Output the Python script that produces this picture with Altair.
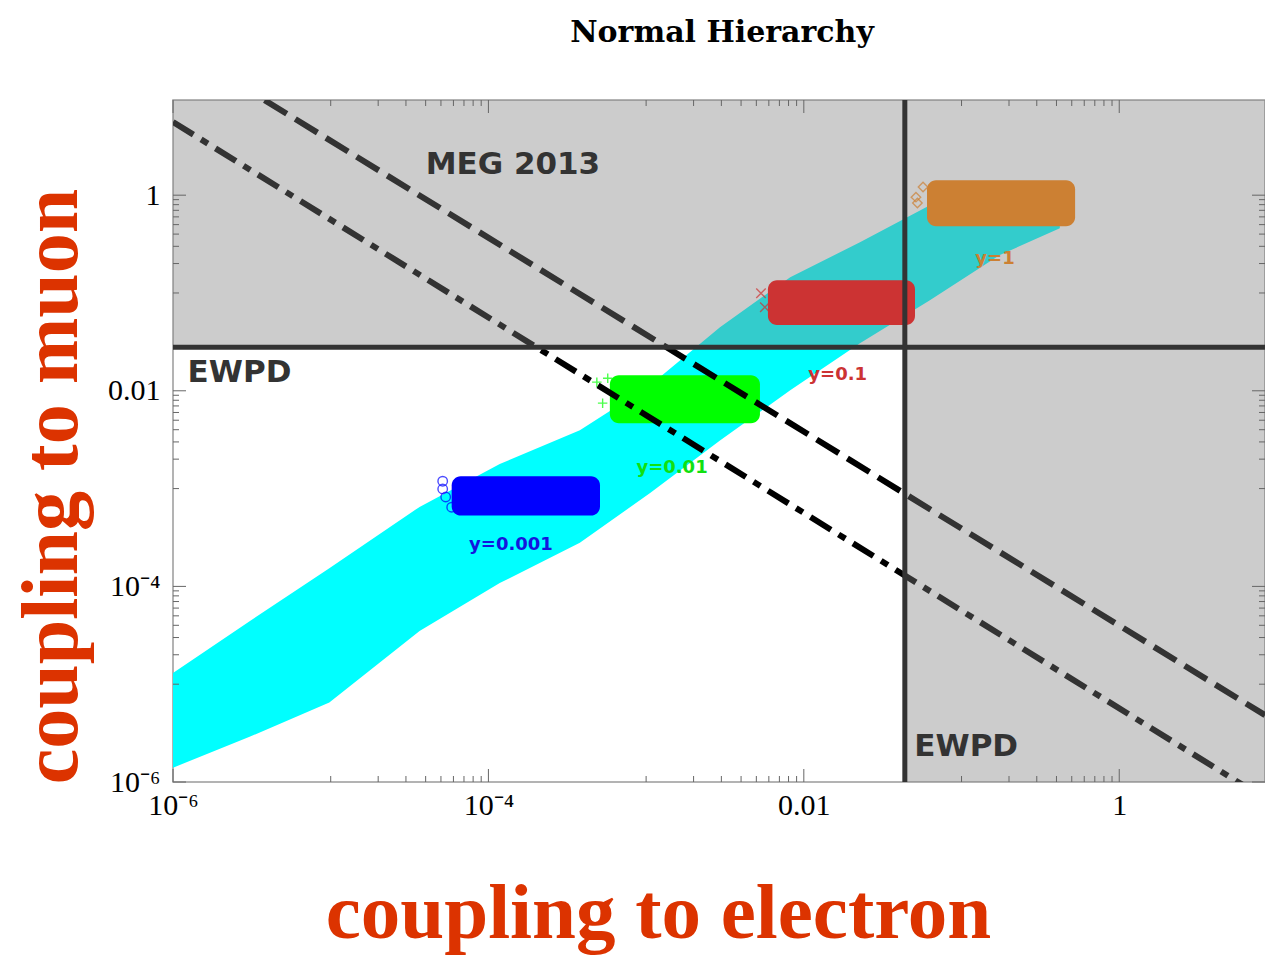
import math
import altair as alt
import pandas as pd

# ---------------- data ----------------
X_DOMAIN = [1e-6, 8.4]
Y_DOMAIN = [1e-6, 9.4]

X_TICKS = [1e-6, 1e-4, 1e-2, 1]
X_TICK_LABELS = ["10⁻⁶", "10⁻⁴", "0.01", "1"]
Y_TICKS = [1e-6, 1e-4, 1e-2, 1]
Y_TICK_LABELS = ["10⁻⁶", "10⁻⁴", "0.01", "1"]
MINOR_MANTISSAS = [1, 2, 3, 4, 5, 6, 7, 8, 9]
MINOR_DECADES = [1e-5, 1e-3, 1e-1]

TITLE = "Normal Hierarchy"

# cyan scan: envelope of the scattered points
band_x = [1e-6, 3.06e-6, 9.8e-6, 3.66e-5, 1.18e-4, 3.8e-4, 1.06e-3, 2.94e-3, 8.2e-3, 0.0227, 0.063, 0.175, 0.42]
band_lo = [1.4e-6, 2.9e-6, 6.5e-6, 3.5e-5, 1.08e-4, 2.8e-4, 9.0e-4, 3.1e-3, 0.0101, 0.0307, 0.0844, 0.244, 0.46]
band_hi = [1.3e-5, 4.4e-5, 1.53e-4, 6.5e-4, 1.78e-3, 3.95e-3, 0.0114, 0.0447, 0.145, 0.33, 0.79, 0.62, 0.58]

# fixed-Yukawa clouds
blob_name = ["y=0.001", "y=0.01", "y=0.1", "y=1"]
blob_x1 = [5.85e-5, 5.89e-4, 5.92e-3, 0.0604]
blob_x2 = [5.1e-4, 5.27e-3, 0.0507, 0.525]
blob_y1 = [5.3e-4, 4.66e-3, 0.047, 0.48]
blob_y2 = [1.34e-3, 0.0144, 0.135, 1.42]
blob_color = ["#0000ff", "#00ff00", "#ff0000", "#ff8000"]

# stray markers at the left end of each cloud
mk_x = [5.13e-5, 5.13e-5, 5.36e-5, 5.85e-5, 4.87e-4, 5.71e-4, 5.3e-4, 5.35e-3, 5.66e-3, 0.0514, 0.057, 0.0525]
mk_y = [1.19e-3, 9.9e-4, 8.2e-4, 6.45e-4, 0.01225, 0.01345, 7.47e-3, 0.0995, 0.0716, 0.955, 1.21, 0.83]
mk_shape = ["circle", "circle", "circle", "circle", "plus", "plus", "plus", "x", "x", "diamond", "diamond", "diamond"]
mk_color = ["#0000ff"] * 4 + ["#00ff00"] * 3 + ["#ff0000"] * 2 + ["#ff8000"] * 3

# constraint lines
EWPD_E = 0.0437     # vertical EWPD bound on electron coupling
EWPD_MU = 0.0279    # horizontal EWPD bound on muon coupling
meg_x = [3.81e-6, 8.41]
meg_y = [9.36, 4.82e-6]
fut_x = [1e-6, 6.3]
fut_y = [5.6, 9.0e-7]

# in-plot labels
lab_text = ["MEG 2013", "EWPD", "EWPD", "y=1", "y=0.1", "y=0.01", "y=0.001"]
lab_x = [1.43e-4, 2.64e-6, 0.107, 0.163, 0.0164, 1.46e-3, 1.39e-4]
lab_y = [2.03, 0.0151, 2.27e-6, 0.222, 0.0144, 1.62e-3, 2.64e-4]
lab_size = [31, 31, 31, 18, 18, 18, 18]
lab_color = ["#333333", "#333333", "#333333", "#cc8033", "#cc3333", "#11e011", "#1515dd"]

# ---------------- chart ----------------
W, H = 1092, 682
TICK_COLOR = "#666666"
AXIS_TITLE_COLOR = "#dc3300"

xs = alt.Scale(type="log", domain=X_DOMAIN, nice=False)
ys = alt.Scale(type="log", domain=Y_DOMAIN, nice=False)

SHAPES = {
    "circle": "circle",
    "diamond": "diamond",
    "plus": "M-1,0L1,0M0,-1L0,1",
    "x": "M-1,-1L1,1M1,-1L-1,1",
}


def label_expr(values, labels):
    parts = [
        f"round(log(datum.value)/LN10) == {round(math.log10(v))} ? '{lab}'"
        for v, lab in zip(values, labels)
    ]
    return " : ".join(parts) + " : ''"


x_axis = alt.Axis(
    values=X_TICKS, labelExpr=label_expr(X_TICKS, X_TICK_LABELS),
    ticks=False, domain=False, grid=False, labelFlush=False, labelOverlap=False,
    labelFont="Liberation Serif", labelFontSize=30, labelColor="black", labelPadding=8,
    title="coupling to electron", titleFont="Liberation Serif", titleFontSize=79,
    titleFontWeight="bold", titleColor=AXIS_TITLE_COLOR, titleX=485, titleY=155,
    titleAlign="center", titleBaseline="alphabetic", titleAngle=0,
)
y_axis = alt.Axis(
    values=Y_TICKS, labelExpr=label_expr(Y_TICKS, Y_TICK_LABELS),
    ticks=False, domain=False, grid=False, labelFlush=False, labelOverlap=False,
    labelFont="Liberation Serif", labelFontSize=30, labelColor="black", labelPadding=13,
    title="coupling to muon", titleFont="Liberation Serif", titleFontSize=80,
    titleFontWeight="bold", titleColor=AXIS_TITLE_COLOR, titleX=-97, titleY=386,
    titleAlign="center", titleBaseline="alphabetic", titleAngle=270,
)


def X(field):
    return alt.X(field, scale=xs, axis=x_axis)


def Y(field):
    return alt.Y(field, scale=ys, axis=y_axis)


band_df = pd.DataFrame({"x": band_x, "lo": band_lo, "hi": band_hi})
band = alt.Chart(band_df).mark_area(color="#00ffff", clip=True).encode(
    x=X("x:Q"), y=Y("lo:Q"), y2="hi:Q",
)

blob_df = pd.DataFrame({"n": blob_name, "x1": blob_x1, "x2": blob_x2,
                        "y1": blob_y1, "y2": blob_y2, "c": blob_color})
blobs = alt.Chart(blob_df).mark_rect(cornerRadius=9).encode(
    x=X("x1:Q"), x2="x2:Q", y=Y("y1:Q"), y2="y2:Q",
    color=alt.Color("c:N", scale=None),
)

mk_df = pd.DataFrame({"x": mk_x, "y": mk_y, "s": [SHAPES[s] for s in mk_shape], "c": mk_color})
markers = alt.Chart(mk_df).mark_point(filled=False, size=90, strokeWidth=1.4).encode(
    x=X("x:Q"), y=Y("y:Q"),
    shape=alt.Shape("s:N", scale=None),
    color=alt.Color("c:N", scale=None),
)

meg = alt.Chart(pd.DataFrame({"x": meg_x, "y": meg_y})).mark_line(
    color="black", strokeWidth=6, strokeDash=[26, 10], clip=True
).encode(x=X("x:Q"), y=Y("y:Q"))

fut = alt.Chart(pd.DataFrame({"x": fut_x, "y": fut_y})).mark_line(
    color="black", strokeWidth=6, strokeDash=[24, 9, 8, 9], clip=True
).encode(x=X("x:Q"), y=Y("y:Q"))

shade_df = pd.DataFrame({
    "x1": [X_DOMAIN[0], EWPD_E], "x2": [X_DOMAIN[1], X_DOMAIN[1]],
    "y1": [EWPD_MU, Y_DOMAIN[0]], "y2": [Y_DOMAIN[1], EWPD_MU],
})
shade = alt.Chart(shade_df).mark_rect(color="#808080", opacity=0.4).encode(
    x=X("x1:Q"), x2="x2:Q", y=Y("y1:Q"), y2="y2:Q",
)

ewpd_h = alt.Chart(pd.DataFrame({"y": [EWPD_MU]})).mark_rule(color="#333333", strokeWidth=5).encode(
    y=Y("y:Q"))
ewpd_v = alt.Chart(pd.DataFrame({"x": [EWPD_E]})).mark_rule(color="#333333", strokeWidth=5).encode(
    x=X("x:Q"))

lab_df = pd.DataFrame({"x": lab_x, "y": lab_y, "t": lab_text, "fs": lab_size, "c": lab_color})
labels = alt.Chart(lab_df).mark_text(font="DejaVu Sans", fontWeight="bold", align="center",
                                     baseline="middle").encode(
    x=X("x:Q"), y=Y("y:Q"),
    text="t:N",
    size=alt.Size("fs:Q", scale=None),
    color=alt.Color("c:N", scale=None),
)

# chart heading, placed above the plot frame
title_mark = alt.Chart(pd.DataFrame({"t": [TITLE]})).mark_text(
    font="DejaVu Serif", fontWeight="bold", fontSize=30, color="black",
    align="center", baseline="alphabetic",
).encode(text="t:N", x=alt.value(549), y=alt.value(-58))

minor_vals = [m * d for d in MINOR_DECADES for m in MINOR_MANTISSAS]


def ticks(values, channel, length, side):
    df = pd.DataFrame({"v": values})
    base = alt.Chart(df).mark_rule(color=TICK_COLOR, strokeWidth=1)
    if channel == "x":
        a, b = (H, H - length) if side == "far" else (0, length)
        return base.encode(x=X("v:Q"), y=alt.value(a), y2=alt.value(b))
    a, b = (0, length) if side == "near" else (W, W - length)
    return base.encode(y=Y("v:Q"), x=alt.value(a), x2=alt.value(b))


tick_layers = [
    ticks(X_TICKS, "x", 13, "far"), ticks(X_TICKS, "x", 13, "near"),
    ticks(minor_vals, "x", 6, "far"), ticks(minor_vals, "x", 6, "near"),
    ticks(Y_TICKS, "y", 13, "near"), ticks(Y_TICKS, "y", 13, "far"),
    ticks(minor_vals, "y", 6, "near"), ticks(minor_vals, "y", 6, "far"),
]

chart = alt.layer(
    band, blobs, markers, meg, fut, shade, ewpd_h, ewpd_v, labels, *tick_layers, title_mark
).properties(
    width=W, height=H,
    padding={"left": 173, "top": 100, "right": 0, "bottom": 174},
    autosize=alt.AutoSizeParams(type="none"),
).configure(background="white").configure_view(stroke="#9a9a9a", strokeWidth=1.5)

chart.save("out.html", embed_options={"renderer": "svg", "actions": False})
